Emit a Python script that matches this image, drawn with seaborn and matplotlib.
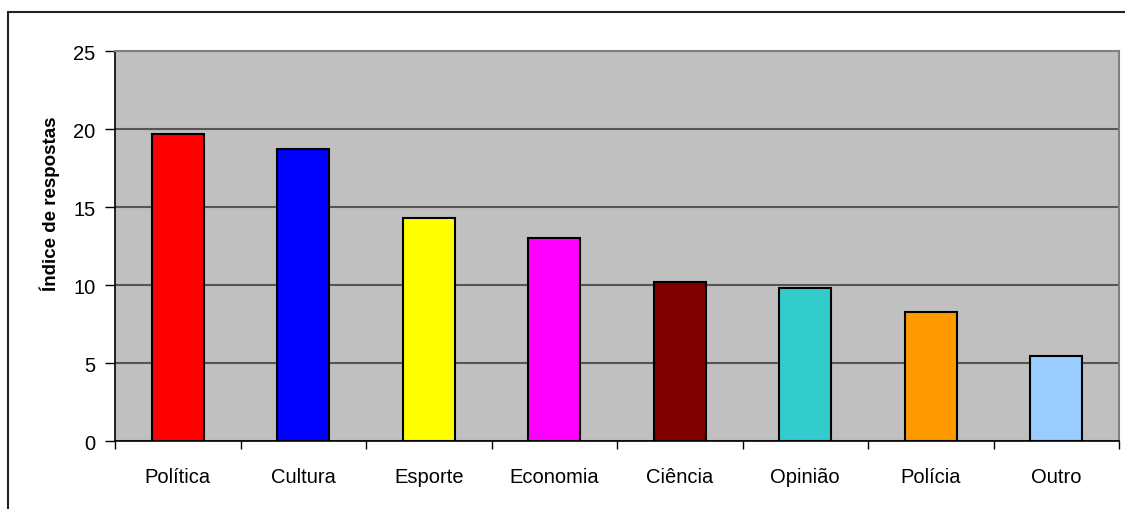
import numpy as np
import pandas as pd
import matplotlib.pyplot as plt
import seaborn as sns
from matplotlib.lines import Line2D

# data
categories = ["Política", "Cultura", "Esporte", "Economia", "Ciência", "Opinião", "Polícia", "Outro"]
values = [19.7, 18.7, 14.3, 13.0, 10.2, 9.8, 8.3, 5.45]
colors = ["#FF0000", "#0000FF", "#FFFF00", "#FF00FF", "#800000", "#33CCCC", "#FF9900", "#99CCFF"]

df = pd.DataFrame({"Categoria": categories, "Indice": values})

sns.set_style("white")
plt.rcParams["font.family"] = ["Liberation Sans", "DejaVu Sans"]
plt.rcParams["text.color"] = "black"
plt.rcParams["axes.labelcolor"] = "black"
plt.rcParams["xtick.color"] = "black"
plt.rcParams["ytick.color"] = "black"

fig = plt.figure(figsize=(11.25, 5.1), dpi=100)
ax = fig.add_axes([115 / 1125, 1 - 442 / 510, 1004 / 1125, 390 / 510])
ax.set_facecolor("#C0C0C0")

sns.barplot(data=df, x="Categoria", y="Indice", hue="Categoria", palette=colors, saturation=1,
            width=0.415, edgecolor="black", linewidth=1.5, legend=False, ax=ax, zorder=3)

ax.set_ylim(0, 25)
ax.set_xlim(-0.5, len(categories) - 0.5)
ax.set_yticks(range(0, 26, 5))
ax.yaxis.grid(True, color="#555555", linewidth=1.5, zorder=1)
ax.set_axisbelow(True)

# ticks between categories
ax.set_xticks(np.arange(-0.5, len(categories)), minor=True)
ax.tick_params(axis="x", which="major", length=0, pad=19, labelsize=14.5, labelcolor="black")
ax.tick_params(axis="x", which="minor", length=6, width=1, color="black", direction="out")
ax.tick_params(axis="y", length=7, width=1, color="black", direction="out", pad=7, labelsize=14.5,
               labelcolor="black")
ax.xaxis.set_ticks_position("bottom")
ax.yaxis.set_ticks_position("left")

for side in ["left", "bottom"]:
    ax.spines[side].set_color("black")
    ax.spines[side].set_linewidth(1.2)
for side in ["top", "right"]:
    ax.spines[side].set_color("#808080")
    ax.spines[side].set_linewidth(1.5)

ax.set_xlabel("")
ax.set_ylabel("Índice de respostas", fontsize=13.5, fontweight="bold", color="black")
ax.yaxis.set_label_coords(-0.055, 0.61)

# outer frame (left and top edges visible)
fig.add_artist(Line2D([8 / 1125, 8 / 1125], [0, 1 - 13 / 510], color="#222222", linewidth=1.5))
fig.add_artist(Line2D([8 / 1125, 1], [1 - 13 / 510, 1 - 13 / 510], color="#222222", linewidth=1.5))

fig.savefig("out.png", dpi=100)
